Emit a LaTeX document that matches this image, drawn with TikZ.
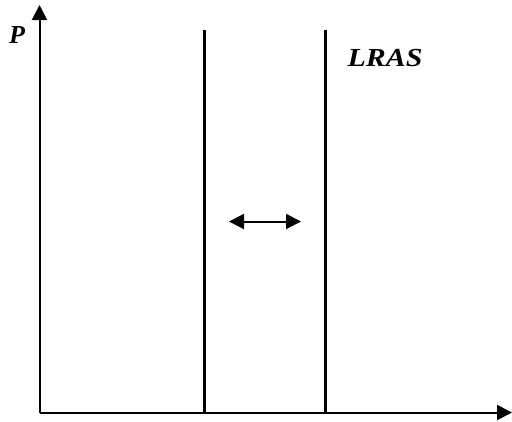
\documentclass[tikz,border=0pt]{standalone}
\usepackage{fontspec}
\setmainfont{Liberation Serif}
\usetikzlibrary{arrows.meta}

\begin{document}
\begin{tikzpicture}[x=1pt,y=-1pt,>={Triangle[length=15pt,width=15pt]}]
    \tikzstyle{axis}=[line width=2pt,->]
    \tikzstyle{lras}=[line width=3pt]
    \tikzstyle{lbl}=[font=\fontsize{26}{30}\selectfont\bfseries\itshape,inner sep=0pt]
    \useasboundingbox (0,0) rectangle (512,421);

    \coordinate (O) at (39.5,412.5);
    \coordinate (Ytop) at (39.5,5);
    \coordinate (Xend) at (512,412.5);
    \draw[axis] (O) -- (Ytop);
    \draw[axis] (O) -- (Xend);

    \foreach \num/\x in {1/204.5, 2/325}
    {
        \coordinate (L-\num-top) at (\x,30);
        \coordinate (L-\num-bot) at (\x,412.5);
        \draw[lras] (L-\num-top) -- (L-\num-bot);
    }

    \coordinate (S-left) at (229,221.5);
    \coordinate (S-right) at (301,221.5);
    \draw[line width=2pt,<->] (S-left) -- (S-right);

    \node[lbl] (P) at (17,35) {P};
    \node[lbl,xscale=1.15] (LRAS) at (385,58.5) {LRAS};
\end{tikzpicture}
\end{document}
